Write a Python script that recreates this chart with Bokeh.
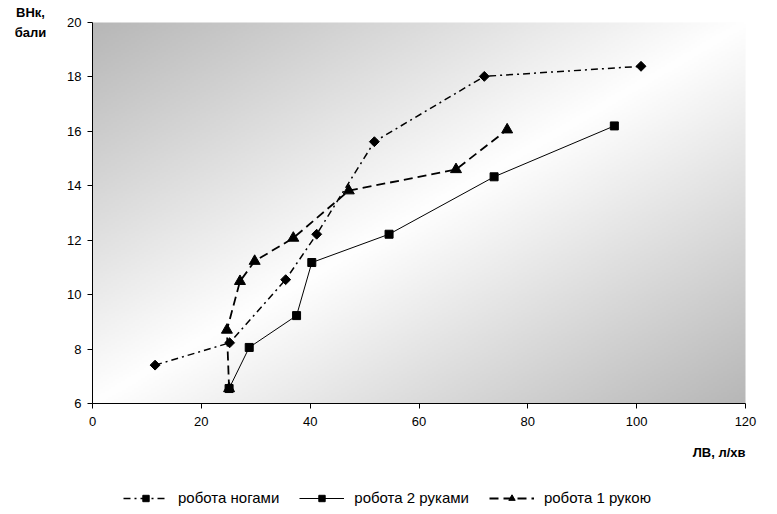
import numpy as np
from bokeh.plotting import figure
from bokeh.models import Range1d, FixedTicker, Legend, LegendItem, LinearAxis, Label
from bokeh.embed import file_html
from bokeh.resources import INLINE

# ---- data ----
feet_x = [11.5, 25.2, 35.5, 41.2, 51.8, 72.0, 100.8]
feet_y = [7.41, 8.23, 10.55, 12.22, 15.62, 18.02, 18.39]

two_x = [25.1, 28.8, 37.5, 40.3, 54.5, 73.8, 95.9]
two_y = [6.55, 8.06, 9.23, 11.18, 12.22, 14.33, 16.20]

one_x = [25.1, 24.7, 27.1, 29.8, 36.9, 47.1, 66.8, 76.2]
one_y = [6.55, 8.70, 10.49, 11.23, 12.08, 13.82, 14.60, 16.06]

series_names = ["робота ногами", "робота 2 руками", "робота 1 рукою"]
x_ticks = [0, 20, 40, 60, 80, 100, 120]
y_ticks = [6, 8, 10, 12, 14, 16, 18, 20]
x_title = "ЛВ, л/хв"
y_title_lines = ["ВНк,", "бали"]

X_MIN, X_MAX = 0, 120
Y_MIN, Y_MAX = 6, 20

FONT = "Liberation Sans"

# The frame is the whole 777x514 canvas; the axis box spans x 92..745, y 22..403 px.
PX_X = 653 / (X_MAX - X_MIN)
PX_Y = 381 / (Y_MAX - Y_MIN)
x_start = X_MIN - 92 / PX_X
x_end = X_MAX + 32 / PX_X
y_start = Y_MIN - 111 / PX_Y
y_end = Y_MAX + 22 / PX_Y

p = figure(width=777, height=514, output_backend="svg", toolbar_location=None,
           x_range=Range1d(x_start, x_end), y_range=Range1d(y_start, y_end),
           x_axis_location=None, y_axis_location=None,
           min_border_left=0, min_border_right=0, min_border_top=0,
           min_border_bottom=0)
p.outline_line_color = None
p.background_fill_color = "white"
p.border_fill_color = "white"
p.xgrid.visible = False
p.ygrid.visible = False

# ---- diagonal gradient background of the plot area ----
H, W = 200, 330
u = np.linspace(0, 1, W)[None, :]
v = np.linspace(1, 0, H)[:, None]          # row 0 is the bottom, v measured from top
t = (u + v) / 2.0
c = (255 - 72 * np.abs(2 * t - 1)).astype(np.uint32)
img = (255 << 24) | (c << 16) | (c << 8) | c
p.image_rgba(image=[img.astype(np.uint32)], x=X_MIN, y=Y_MIN,
             dw=X_MAX - X_MIN, dh=Y_MAX - Y_MIN)

# ---- series ----
l1 = p.line(feet_x, feet_y, line_color="black", line_width=1.5, line_dash="7 4 2 4")
m1 = p.scatter(feet_x, feet_y, marker="square", angle=np.pi / 4, size=7, color="black")

l3 = p.line(one_x, one_y, line_color="black", line_width=1.8, line_dash="9 5")
m3 = p.scatter(one_x, one_y, marker="triangle", size=11, color="black")

l2 = p.line(two_x, two_y, line_color="black", line_width=1)
m2 = p.scatter(two_x, two_y, marker="square", size=8, color="black")

# ---- axes ----
common = dict(axis_line_color="black", major_tick_line_color="black",
              minor_tick_line_color=None, major_tick_in=0, major_tick_out=5,
              major_label_text_font=FONT, major_label_text_font_size="13px",
              major_label_text_color="black")
xaxis = LinearAxis(ticker=FixedTicker(ticks=x_ticks), bounds=(X_MIN, X_MAX),
                   fixed_location=Y_MIN, major_label_standoff=8, **common)
yaxis = LinearAxis(ticker=FixedTicker(ticks=y_ticks), bounds=(Y_MIN, Y_MAX),
                   fixed_location=X_MIN, major_label_standoff=6, **common)
p.add_layout(xaxis, "below")
p.add_layout(yaxis, "left")

# ---- titles ----
title_style = dict(text_font=FONT, text_font_size="13px", text_font_style="bold",
                   text_color="black", text_baseline="middle")
p.add_layout(Label(x=X_MAX, y=Y_MIN - 49 / PX_Y, text=x_title, text_align="right",
                   **title_style))
p.add_layout(Label(x=X_MIN - 62 / PX_X, y=Y_MAX + 10 / PX_Y, text=y_title_lines[0],
                   text_align="center", **title_style))
p.add_layout(Label(x=X_MIN - 62 / PX_X, y=Y_MAX - 10 / PX_Y, text=y_title_lines[1],
                   text_align="center", **title_style))

# ---- legend ----
legend = Legend(items=[LegendItem(label=series_names[0], renderers=[l1, m1]),
                       LegendItem(label=series_names[1], renderers=[l2, m2]),
                       LegendItem(label=series_names[2], renderers=[l3, m3])],
                orientation="horizontal", location=(123, 8),
                glyph_width=45, glyph_height=16, label_standoff=10, spacing=20,
                padding=4, border_line_color=None, background_fill_alpha=0,
                label_text_font=FONT, label_text_font_size="15px",
                label_text_color="black")
p.add_layout(legend)

open("out.html", "w").write(file_html(p, INLINE))
